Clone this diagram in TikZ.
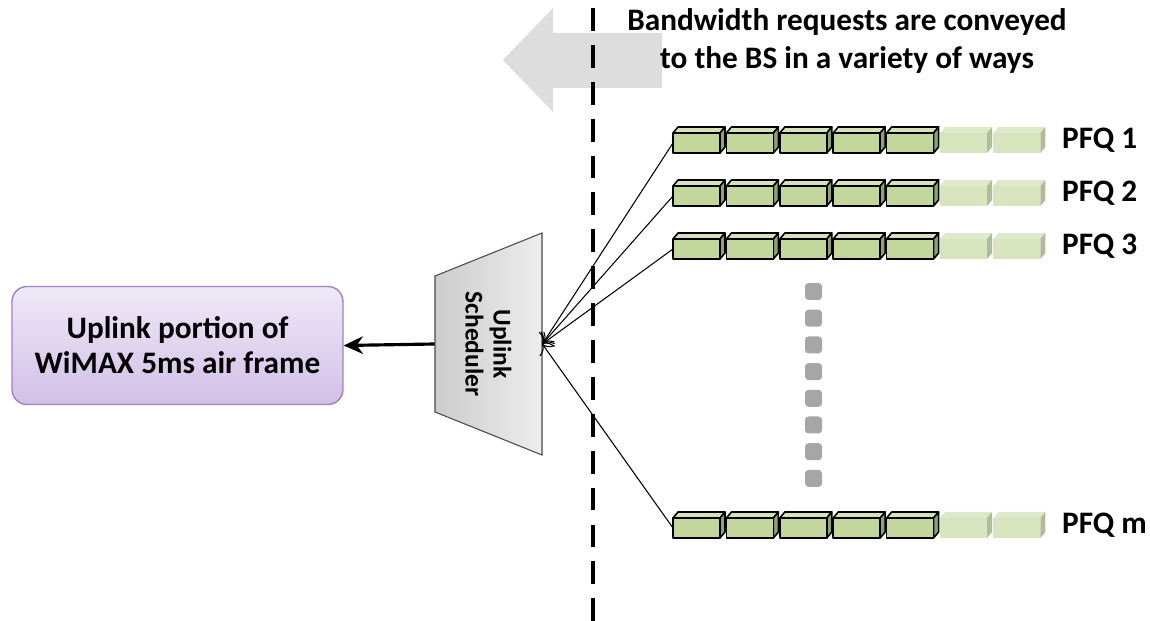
\documentclass[tikz,border=0pt]{standalone}
\usepackage{fontspec}
\setmainfont{Carlito}
\usetikzlibrary{arrows.meta}

\definecolor{pktdark}{HTML}{C3D69B}
\definecolor{pktlight}{HTML}{D7E4BD}
\definecolor{boxtop}{HTML}{EFE9F7}
\definecolor{boxbot}{HTML}{D2BFE7}
\definecolor{boxline}{HTML}{9F82C1}
\definecolor{arrowgray}{HTML}{DDDDDD}
\definecolor{dotgray}{HTML}{A6A6A6}

\tikzset{
  bigtext/.style={font=\fontsize{17.8}{21.5}\selectfont\bfseries},
  % packet faces
  dfront/.style={draw=black, line width=0.9pt, fill=pktdark},
  dtop/.style={draw=black, line width=0.9pt, fill=pktdark!70!white},
  dside/.style={draw=black, line width=0.9pt, fill=pktdark!75!black},
  lfront/.style={fill=pktlight},
  ltop/.style={fill=pktlight!80!white},
  lside/.style={fill=pktlight!82!black},
}

% one packet: left x, middle y, style prefix (d or l)
\newcommand{\packet}[3]{%
  \begin{scope}[shift={(#1,#2)}, line join=round]
    \path[#3top] (0,-10) -- (5,-16) -- (52,-16) -- (47,-10) -- cycle;
    \path[#3side] (47,-10) -- (52,-16) -- (52,4) -- (47,10) -- cycle;
    \path[#3front] (0,-10) rectangle (47,10);
  \end{scope}}

\begin{document}
\begin{tikzpicture}[x=0.02cm, y=-0.02cm]
    \useasboundingbox (0,0) rectangle (1150,621);
    % Big gray arrow
    \fill[arrowgray] (503,60) -- (553,8) -- (553,33) -- (662,33) -- (662,88) -- (553,88) -- (553,112) -- cycle;
    % Dashed line
    \draw[line width=2.8pt, dash pattern=on 13pt off 8pt] (593,8) -- (593,621);
    \node (title) [bigtext, align=center] at (847,41) {Bandwidth requests are conveyed\\to the BS in a variety of ways};
    % Nodes
    \node (frame) [rectangle, draw=boxline, line width=0.8pt, rounded corners=0.3cm, top color=boxtop, bottom color=boxbot,
        minimum width=6.62cm, minimum height=2.36cm, align=center, font=\fontsize{17.8}{20}\selectfont\bfseries]
        at (177.5,345.5) {Uplink portion of\\WiMAX 5ms air frame};
    \node (sched) [rotate=-90, minimum width=4.44cm, minimum height=2.14cm] at (488.5,344) {};
    \filldraw[draw=black!70, line width=0.6pt, left color=black!20, right color=black!7]
        (435,276) -- (542,233) -- (542,455) -- (435,412) -- cycle;
    \node (schedtext) [rotate=-90, align=center, font=\fontsize{14.5}{16}\selectfont\bfseries] at (sched.center) {Uplink\\Scheduler};
    % Queues
    \foreach \r/\y in {1/143, 2/196, 3/249, m/528} {
        \foreach \i in {0,...,4} \packet{673+53.4*\i}{\y}{d};
        \foreach \i in {5,6} \packet{673+53.4*\i}{\y}{l};
        \coordinate (q\r) at (673,\y);
        \node (lab\r) [bigtext, anchor=west] at (1056,\y-3) {PFQ \r};
    }
    % Dots
    \foreach \k in {0,...,7}
        \fill[dotgray, rounded corners=2pt] (805,283+26.7*\k) rectangle ++(17,17);
    % Arrows
    \foreach \r in {1,2,3,m}
        \draw[-{To[length=5pt]}, line width=0.6pt] (q\r) -- (sched.north);
    \draw[-{Stealth[length=11pt, width=10pt]}, line width=1.8pt] (sched.south) -- (frame.east);
\end{tikzpicture}
\end{document}
